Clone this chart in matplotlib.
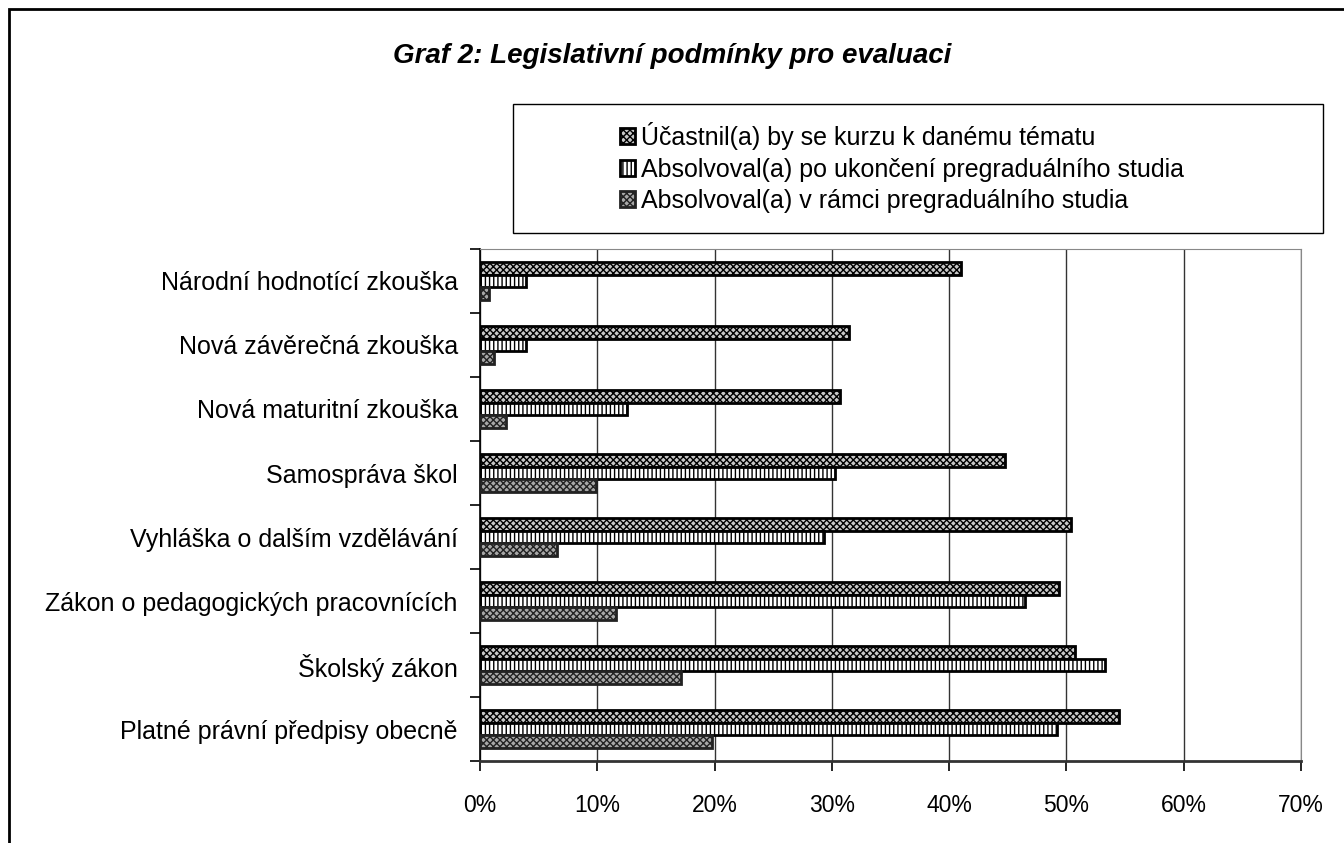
import matplotlib.pyplot as plt
from matplotlib.patches import Rectangle
from matplotlib.ticker import FuncFormatter
import numpy as np

categories = [
    "Platné právní předpisy obecně",
    "Školský zákon",
    "Zákon o pedagogických pracovnících",
    "Vyhláška o dalším vzdělávání",
    "Samospráva škol",
    "Nová maturitní zkouška",
    "Nová závěrečná zkouška",
    "Národní hodnotící zkouška",
]
ucastnil = [54.5, 50.7, 49.4, 50.4, 44.8, 30.7, 31.5, 41.0]
po_ukonceni = [49.2, 53.3, 46.5, 29.3, 30.3, 12.5, 3.9, 3.9]
v_ramci = [19.8, 17.1, 11.6, 6.6, 9.9, 2.2, 1.2, 0.8]

labels = [
    "Účastnil(a) by se kurzu k danému tématu",
    "Absolvoval(a) po ukončení pregraduálního studia",
    "Absolvoval(a) v rámci pregraduálního studia",
]

plt.rcParams['font.family'] = ['Liberation Sans', 'DejaVu Sans']
plt.rcParams['hatch.linewidth'] = 1.0

fig = plt.figure(figsize=(13.44, 8.43), dpi=100)
ax = fig.add_axes([480/1344, 1-761/843, 821/1344, 512/843])

y = np.arange(len(categories))
h = 0.2
b1 = ax.barh(y + h, ucastnil, h, color='#c8c8c8', hatch='xxxxx', edgecolor='black', linewidth=2, zorder=3)
b2 = ax.barh(y, po_ukonceni, h, color='white', hatch='||||', edgecolor='black', linewidth=2, zorder=3)
b3 = ax.barh(y - h, v_ramci, h, color='#a8a8a8', hatch='xxxxx', edgecolor='#222222', linewidth=2, zorder=3)

ax.set_xlim(0, 70)
ax.set_ylim(-0.5, len(categories) - 0.5)
ax.set_xticks(np.arange(0, 71, 10))
ax.xaxis.set_major_formatter(FuncFormatter(lambda v, p: f"{int(v)}%"))
ax.set_yticks(y)
ax.set_yticklabels(categories, fontsize=18)
ax.set_yticks(np.arange(-0.5, len(categories), 1), minor=True)
ax.tick_params(axis='y', which='major', length=0, pad=16)
ax.tick_params(axis='y', which='minor', length=7, width=1.2, direction='out')
ax.tick_params(axis='x', length=7, width=1.2, labelsize=16.5, pad=17)
ax.grid(axis='x', color='#333333', linewidth=1.0, zorder=0)

ax.spines['top'].set_color('#888888')
ax.spines['right'].set_color('#888888')
ax.spines['left'].set_linewidth(1.2)
ax.spines['bottom'].set_linewidth(2)
ax.spines['bottom'].set_color('#333333')

fig.text(672/1344, 1-56/843, "Graf 2: Legislativní podmínky pro evaluaci",
         ha='center', va='center', fontsize=20, fontweight='bold', fontstyle='italic')

# legend box
fig.patches.append(Rectangle((513/1344, 1-233/843), 810/1344, 129/843,
                             transform=fig.transFigure, fill=False,
                             edgecolor='black', linewidth=1.0))
fig.legend([b1, b2, b3], labels, loc='upper left',
           bbox_to_anchor=(610/1344, 1-112/843), frameon=False,
           fontsize=18, handlelength=0.6, handleheight=0.6,
           handletextpad=0.25, labelspacing=0.3, borderaxespad=0)

# outer frame
fig.patches.append(Rectangle((9/1344, -0.05), 1.2, 1-9/843+0.05,
                             transform=fig.transFigure, fill=False,
                             edgecolor='black', linewidth=2))

fig.savefig("out.png", dpi=100)
